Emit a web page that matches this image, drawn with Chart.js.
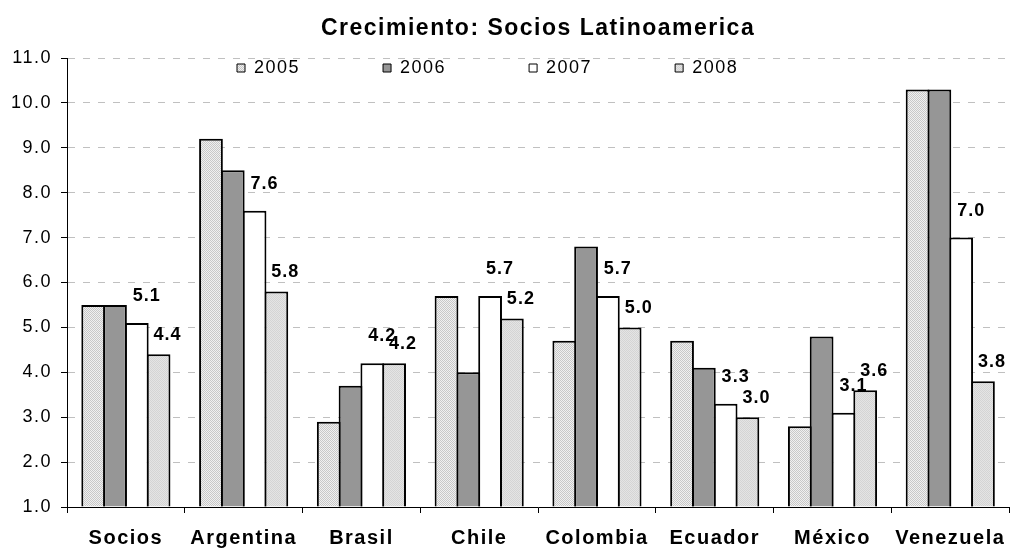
<!DOCTYPE html>
<html>
<head>
<meta charset="utf-8">
<script src="https://cdn.jsdelivr.net/npm/chart.js@4"></script>
<style>
  body { margin: 0; background: #fff; }
  canvas { display: block; }
</style>
</head>
<body>
<canvas id="myChart" width="1019" height="550"></canvas>
<script>
const categories = ['Socios', 'Argentina', 'Brasil', 'Chile', 'Colombia', 'Ecuador', 'México', 'Venezuela'];
const years = ['2005', '2006', '2007', '2008'];
const v2005 = [5.5, 9.2, 2.9, 5.7, 4.7, 4.7, 2.8, 10.3];
const v2006 = [5.5, 8.5, 3.7, 4.0, 6.8, 4.1, 4.8, 10.3];
const v2007 = [5.1, 7.6, 4.2, 5.7, 5.7, 3.3, 3.1, 7.0];
const v2008 = [4.4, 5.8, 4.2, 5.2, 5.0, 3.0, 3.6, 3.8];
const yTicks = [1, 2, 3, 4, 5, 6, 7, 8, 9, 10, 11];

const ctx = document.getElementById('myChart').getContext('2d');

// small checker tiles to get the dotted excel fills
function stipple(base, dot) {
    const c = document.createElement('canvas');
    c.width = 2;
    c.height = 2;
    const g = c.getContext('2d');
    g.fillStyle = base;
    g.fillRect(0, 0, 2, 2);
    g.fillStyle = dot;
    g.fillRect(0, 0, 1, 1);
    g.fillRect(1, 1, 1, 1);
    return ctx.createPattern(c, 'repeat');
}

const fills = [stipple('#f0f0f0', '#c8c8c8'), '#969696', '#ffffff', stipple('#e4e4e4', '#d4d4d4')];
const series = [v2005, v2006, v2007, v2008];

Chart.defaults.font.family = '"Liberation Sans", Arial, sans-serif';
Chart.defaults.color = '#000';

const spacing = {
    id: 'spacing',
    beforeLayout(chart) { chart.ctx.letterSpacing = '1.5px'; },
    beforeDraw(chart) { chart.ctx.letterSpacing = '1.5px'; }
};

// legend sits inside the plot, under the top gridline
const placeLegend = {
    id: 'placeLegend',
    afterLayout(chart) {
        const lg = chart.legend;
        const pad = lg.options.labels.padding;
        const area = chart.chartArea;
        lg.left = area.left + 170 - pad;
        lg.top = area.top + 1 - pad;
        lg.right = lg.left + area.width;
        lg.bottom = lg.top + pad + 40;
    }
};

// value labels only for 2007 and 2008
const labelled = [{ index: 2, dx: 10, dy: -27 }, { index: 3, dx: 9, dy: -19 }];
const valueLabels = {
    id: 'valueLabels',
    afterDatasetsDraw(chart) {
        const c = chart.ctx;
        c.save();
        c.font = 'bold 18px "Liberation Sans", Arial, sans-serif';
        c.letterSpacing = '1px';
        c.fillStyle = '#000';
        c.textAlign = 'center';
        c.textBaseline = 'middle';
        labelled.forEach(l => {
            const meta = chart.getDatasetMeta(l.index);
            meta.data.forEach((bar, i) => {
                const v = chart.data.datasets[l.index].data[i];
                c.fillText(v.toFixed(1), bar.x + l.dx, bar.y + l.dy);
            });
        });
        c.restore();
    }
};

const chart = new Chart(ctx, {
    type: 'bar',
    data: {
        labels: categories,
        datasets: years.map((y, i) => ({
            label: y,
            data: series[i],
            base: 1,
            backgroundColor: fills[i],
            borderColor: '#000',
            borderWidth: 2,
            borderSkipped: 'start',
            categoryPercentage: 0.74,
            barPercentage: 24 / 22
        }))
    },
    options: {
        responsive: false,
        animation: false,
        devicePixelRatio: 1,
        layout: { padding: { left: 0, right: 1, top: 0, bottom: 0 } },
        scales: {
            x: {
                grid: { display: true, drawOnChartArea: false, tickLength: 6, tickColor: '#000', offset: true },
                border: { color: '#000', width: 1 },
                ticks: {
                    font: { size: 20, weight: 'bold' },
                    color: '#000',
                    padding: 13,
                    maxRotation: 0,
                    autoSkip: false
                },
                afterFit(scale) { scale.height = 43; }
            },
            y: {
                min: yTicks[0],
                max: yTicks[yTicks.length - 1],
                afterBuildTicks(scale) { scale.ticks = yTicks.map(v => ({ value: v })); },
                grid: { color: '#c0c0c0', lineWidth: 1, tickLength: 6, tickColor: '#000' },
                border: { color: '#000', width: 1, dash: [7, 8] },
                ticks: {
                    font: { size: 18 },
                    color: '#000',
                    padding: 9,
                    callback: v => Number(v).toFixed(1)
                },
                afterFit(scale) { scale.width = 67; }
            }
        },
        plugins: {
            title: {
                display: true,
                fullSize: false,
                text: 'Crecimiento: Socios Latinoamerica',
                font: { size: 23, weight: 'bold' },
                color: '#000',
                padding: { top: 15, bottom: 14.4 }
            },
            legend: {
                position: 'top',
                align: 'start',
                maxHeight: 1,
                labels: {
                    boxWidth: 8,
                    boxHeight: 8,
                    padding: 83,
                    font: { size: 18 },
                    color: '#000',
                    generateLabels: c => c.data.datasets.map((ds, i) => ({
                        text: ds.label,
                        fillStyle: ds.backgroundColor,
                        strokeStyle: '#000',
                        lineWidth: 1,
                        hidden: false,
                        datasetIndex: i
                    }))
                }
            },
            tooltip: { enabled: false }
        }
    },
    plugins: [spacing, placeLegend, valueLabels]
});
</script>
</body>
</html>
